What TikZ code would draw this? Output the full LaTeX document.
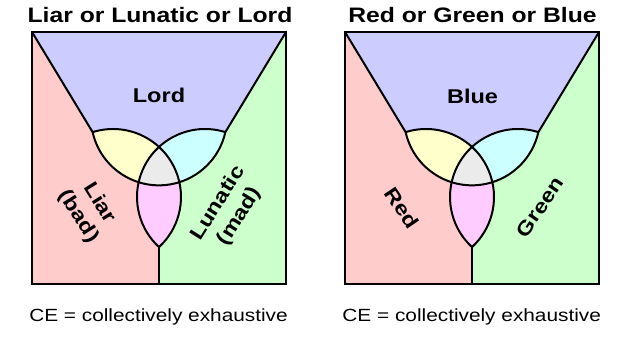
\documentclass[tikz,border=0pt]{standalone}
\usepackage{fontspec}
\setmainfont{Liberation Sans}[FakeStretch=1.18]
\usepackage{tikz}

\definecolor{lordblue}{HTML}{CCCCFF}
\definecolor{liarred}{HTML}{FFCCCC}
\definecolor{lunagreen}{HTML}{CCFFCC}
\definecolor{bothyellow}{HTML}{FFFFCC}
\definecolor{bothcyan}{HTML}{CCFFFF}
\definecolor{bothpink}{HTML}{FFCCFF}
\definecolor{allgray}{HTML}{EBEBEB}

\begin{document}
\begin{tikzpicture}[x=1bp, y=1bp,
        edge/.style={line width=2bp},
        title/.style={font=\fontsize{21}{25}\selectfont\bfseries, anchor=base},
        lbl/.style={font=\fontsize{20}{25}\selectfont\bfseries, align=center},
        note/.style={font=\fontsize{17.7}{21}\selectfont, anchor=base}]
        \useasboundingbox (0,0) rectangle (632,344);
        %二つの図は同じ形, 中心 x だけが違う
        \foreach \cx in {159,472}{
            \coordinate (TL) at (\cx-127,312);
            \coordinate (TR) at (\cx+127,312);
            \coordinate (BL) at (\cx-127,60);
            \coordinate (BR) at (\cx+127,60);
            \coordinate (BM) at (\cx,60);
            \coordinate (L) at (\cx-46,147);
            \coordinate (R) at (\cx+46,147);
            \coordinate (U) at (\cx,226.67);
            \coordinate (P1) at (\cx-66.37,211.87);
            \coordinate (P2) at (\cx+66.37,211.87);
            \coordinate (T) at (\cx,197.08);
            \coordinate (B) at (\cx,96.92);
            %地の色
            \fill[liarred] (BL) rectangle (\cx,312);
            \fill[lunagreen] (BM) rectangle (TR);
            \fill[lordblue] (TL) -- (TR) -- (P2) -- (T) -- (P1) -- cycle;
            \fill[lordblue] (U) circle[radius=68];
            %円の重なり
            \begin{scope}
                \clip (L) circle[radius=68];
                \fill[bothpink] (R) circle[radius=68];
                \fill[bothyellow] (U) circle[radius=68];
            \end{scope}
            \begin{scope}
                \clip (R) circle[radius=68];
                \fill[bothcyan] (U) circle[radius=68];
            \end{scope}
            \begin{scope}
                \clip (L) circle[radius=68];
                \clip (R) circle[radius=68];
                \fill[allgray] (U) circle[radius=68];
            \end{scope}
            %境界線
            \draw[edge] (TL) -- (P1);
            \draw[edge] (TR) -- (P2);
            \draw[edge] (B) -- (BM);
            \draw[edge] (P1) arc[start angle=107.43, end angle=-47.43, radius=68];
            \draw[edge] (P2) arc[start angle=72.57, end angle=227.43, radius=68];
            \draw[edge] (P1) arc[start angle=192.57, end angle=347.43, radius=68];
            \draw[edge] (BL) rectangle (TR);
        }
        \node[title] (title1) at (160,321.5) {Liar or Lunatic or Lord};
        \node[title] (title2) at (472.5,321.5) {Red or Green or Blue};
        \node[lbl, anchor=base] (lord) at (159,241.5) {Lord};
        \node[lbl, anchor=base] (blue) at (472.5,241) {Blue};
        \node[lbl, rotate=-58] (liar) at (89,134) {Liar\\(bad)};
        \node[lbl, rotate=58] (lunatic) at (229,134) {Lunatic\\(mad)};
        \node[lbl, rotate=-56] (red) at (402,136) {Red};
        \node[lbl, rotate=56] (green) at (540,137) {Green};
        \node[note] (ce1) at (158.5,23) {CE = collectively exhaustive};
        \node[note] (ce2) at (471.7,23) {CE = collectively exhaustive};
    \end{tikzpicture}
\end{document}
